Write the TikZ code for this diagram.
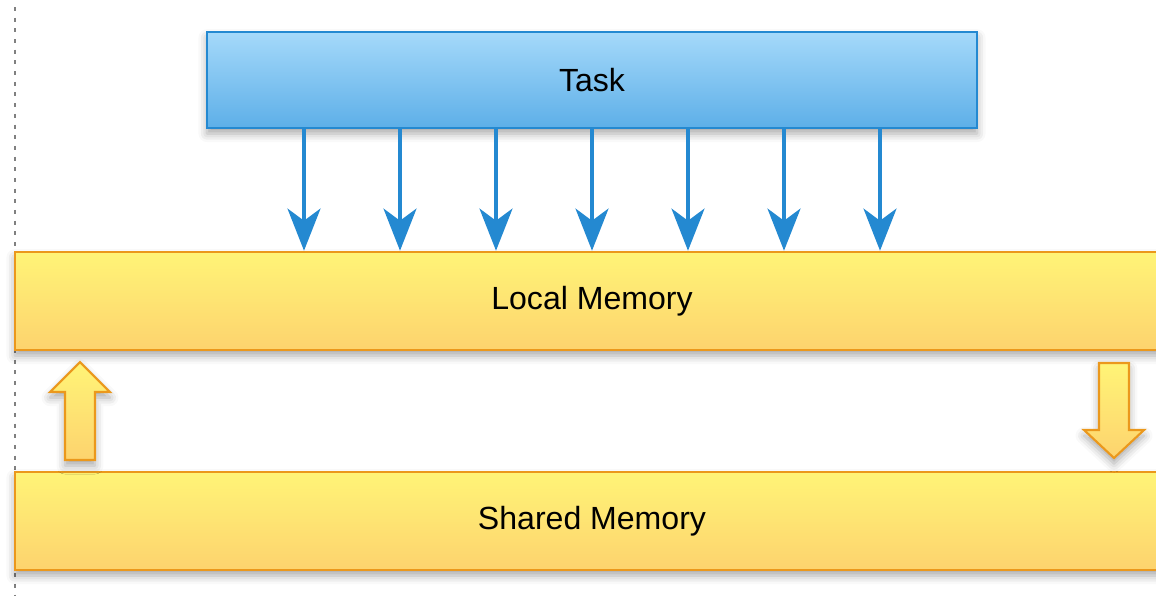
\documentclass[tikz,border=0pt]{standalone}
\usepackage{fontspec}
\setmainfont{Liberation Sans}
\usetikzlibrary{arrows.meta,calc,shadows.blur}

\definecolor{taskTop}{HTML}{A5D9FA}
\definecolor{taskBottom}{HTML}{5DAFE8}
\definecolor{taskLine}{HTML}{2489D1}
\definecolor{memTop}{HTML}{FFF477}
\definecolor{memBottom}{HTML}{FDD36E}
\definecolor{memLine}{HTML}{EB981C}

\tikzset{
  softshadow/.style={blur shadow={shadow xshift=0pt, shadow yshift=-4pt,
      shadow blur radius=6pt, shadow opacity=35}},
  taskbox/.style={draw=taskLine, line width=1.8pt, top color=taskTop,
      bottom color=taskBottom, minimum width=19.25cm, minimum height=2.4cm,
      softshadow},
  membox/.style={draw=memLine, line width=1.8pt, top color=memTop,
      bottom color=memBottom, minimum width=28.85cm, minimum height=2.45cm,
      softshadow},
  loadarrow/.style={draw=taskLine, line width=3.3pt,
      -{Stealth[length=1.05cm, width=0.82cm, inset=0.3cm]}},
  blockarrow/.style={draw=memLine, line width=1.5pt, top color=memTop,
      bottom color=memBottom, line join=miter, softshadow},
}

\begin{document}
\begin{tikzpicture}[x=0.025cm, y=-0.025cm, font=\fontsize{22.8}{27}\selectfont]
    \useasboundingbox (0,0) rectangle (1156,595);
    \clip (0,0) rectangle (1156,595);

    % dotted guide
    \draw[gray, line width=1.6pt, dash pattern=on 0.1cm off 0.167cm] (15,7) -- (15,595);

    \node[taskbox] (task) at (592,80) {Task};
    \node[membox] (local) at (592,301) {Local Memory};
    \node[membox] (shared) at (592,521) {Shared Memory};

    % loads from the task
    \foreach \dx [count=\i] in {-288,-192,-96,0,96,192,288} {
        \coordinate (t\i) at ($(task.south)+(\dx,0)$);
        \draw[loadarrow] (t\i) -- (t\i |- local.north);
    }

    % shared -> local
    \draw[blockarrow] (65,460) -- (65,392) -- (50,392) -- (80,362) -- (110,392)
        -- (95,392) -- (95,460) -- cycle;

    % local -> shared
    \draw[blockarrow] (1099,363) -- (1129,363) -- (1129,430) -- (1144,430)
        -- (1114,458) -- (1084,430) -- (1099,430) -- cycle;
\end{tikzpicture}
\end{document}
